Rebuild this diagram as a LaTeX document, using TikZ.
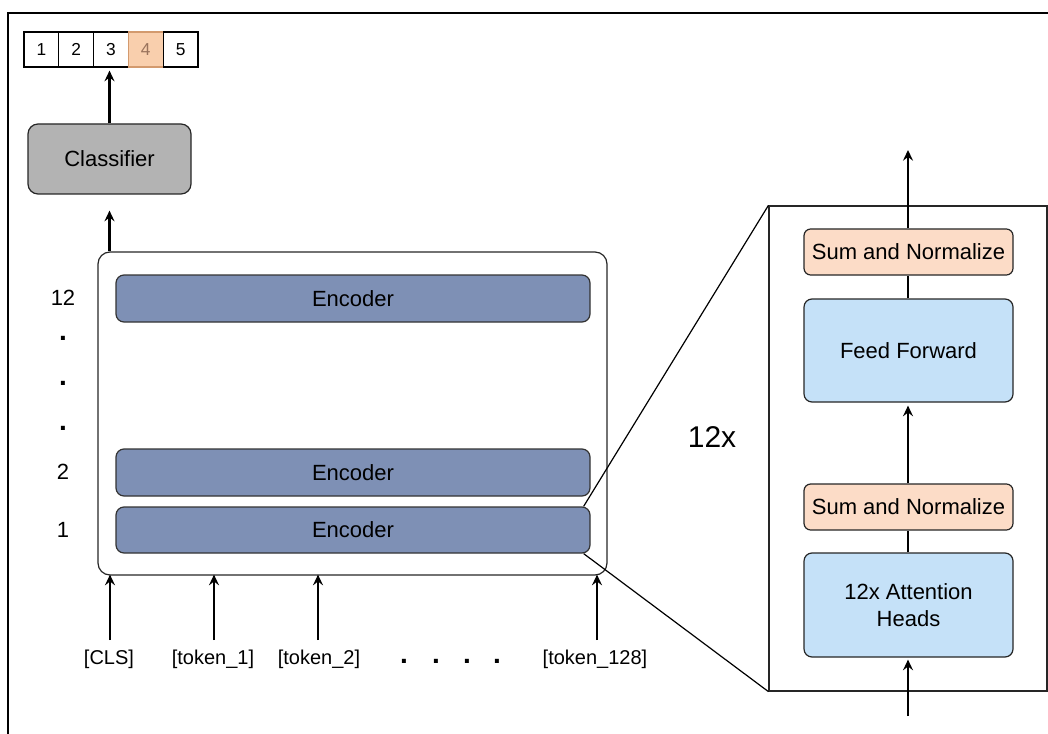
\documentclass[tikz,border=0pt]{standalone}
\usepackage{fontspec}
\setmainfont{Liberation Sans}
\usetikzlibrary{arrows.meta,calc}
\newlength\px \setlength\px{0.75pt}
\definecolor{encfill}{HTML}{7E90B5}
\definecolor{clsfill}{HTML}{B3B3B3}
\definecolor{snfill}{HTML}{FCDCC7}
\definecolor{bluefill}{HTML}{C5E1F8}
\definecolor{hlfill}{HTML}{F9CFAD}
\definecolor{hldraw}{HTML}{D39A6E}
\definecolor{hltext}{HTML}{9A735C}
\begin{document}
\begin{tikzpicture}[x=0.75pt,y=-0.75pt,
  every node/.style={font=\fontsize{16.5}{20}\selectfont, inner sep=0pt},
  arr/.style={line width=1.7pt,-{Stealth[length=8pt,width=7.5pt,inset=2.8pt]}},
  conn/.style={line width=1.7pt},
  thin line/.style={line width=0.9pt},
  outbox/.style={draw, line width=0.9pt, minimum width=34.8\px, minimum height=35\px, font=\fontsize{13}{15}\selectfont},
  clsbox/.style={draw=black!85, fill=clsfill, rounded corners=7.5pt, line width=0.9pt, minimum width=163\px, minimum height=70\px},
  container/.style={draw=black!85, rounded corners=9pt, line width=0.9pt, minimum width=509\px, minimum height=323\px},
  encbox/.style={draw=black!80, fill=encfill, rounded corners=6pt, line width=0.9pt, minimum width=474\px, minimum height=47\px},
  panelbox/.style={draw=black!85, line width=0.9pt, minimum width=278\px, minimum height=485\px},
  snbox/.style={draw=black!85, fill=snfill, rounded corners=5pt, line width=0.9pt, minimum width=209\px, minimum height=46\px},
  bluebox/.style={draw=black!85, fill=bluefill, rounded corners=6pt, line width=0.9pt, minimum width=209\px, minimum height=103\px, align=center},
  lbl/.style={font=\fontsize{16.5}{20}\selectfont},
  tok/.style={font=\fontsize{15}{18}\selectfont},
  dotlbl/.style={font=\fontsize{21}{24}\selectfont\bfseries},
]
\useasboundingbox (0,0) rectangle (1048,734);
% outer frame
\coordinate (ftl) at (8,13);
\coordinate (ftr) at (1048,13);
\coordinate (fbl) at (8,734);
\draw[line width=1.1pt] (fbl) -- (ftl) -- (ftr);

% output boxes
\node[outbox] (o1) at (41.4,49.5) {1};
\node[outbox] (o2) at (76.2,49.5) {2};
\node[outbox] (o3) at (111,49.5) {3};
\node[outbox, fill=hlfill, draw=hldraw, text=hltext] (o4) at (145.8,49.5) {4};
\node[outbox] (o5) at (180.6,49.5) {5};

% classifier
\node[clsbox] (cls) at (109.5,159) {Classifier};
\draw[arr, shorten >=3\px] (cls.north) -- (cls.north |- o3.south);

% encoder stack
\node[container] (enc) at (352.5,413.5) {};
\node[encbox] (e12) at (353,298.5) {Encoder};
\node[encbox] (e2) at (353,472.5) {Encoder};
\node[encbox, minimum height=46\px] (e1) at (353,530) {Encoder};
\draw[arr, shorten >=16\px] (enc.north -| cls) -- (cls.south);

% layer labels
\node[lbl] (l12) at (63,298) {12};
\node[dotlbl] (ld1) at (63,338) {.};
\node[dotlbl] (ld2) at (63,383) {.};
\node[dotlbl] (ld3) at (63,428) {.};
\node[lbl] (l2) at (63,472) {2};
\node[lbl] (l1) at (63,530) {1};

% tokens
\coordinate (a0) at (110,640);
\coordinate (a1) at (214,640);
\coordinate (a2) at (318,640);
\coordinate (a3) at (597,640);
\foreach \i in {0,1,2,3} {
  \draw[arr, shorten >=-1\px] (a\i) -- (a\i |- enc.south);
}
\node[tok] (t0) at (109,659) {[CLS]};
\node[tok] (t1) at (213,659) {[token\_1]};
\node[tok] (t2) at (319,659) {[token\_2]};
\node[tok] (t3) at (595,659) {[token\_128]};
\node[dotlbl] (td1) at (404,661) {.};
\node[dotlbl] (td2) at (436,661) {.};
\node[dotlbl] (td3) at (467,661) {.};
\node[dotlbl] (td4) at (497,661) {.};

% detail panel
\node[panelbox] (panel) at (908,448.5) {};
\draw[thin line] ([shift={(-7,0)}]e1.north east) -- (panel.north west);
\draw[thin line] ([shift={(-7,0)}]e1.south east) -- (panel.south west);
\node[font=\fontsize{22.5}{27}\selectfont] (rep) at (712,437) {12x};

\node[snbox] (sn1) at (908.5,252) {Sum and Normalize};
\node[bluebox] (ff) at (908.5,350.5) {Feed Forward};
\node[snbox] (sn2) at (908.5,507) {Sum and Normalize};
\node[bluebox, minimum height=104\px] (att) at (908.5,605) {12x Attention\\Heads};

\coordinate (topout) at (908,150);
\coordinate (botin) at (908,716);
\draw[arr] (sn1.north -| topout) -- (topout);
\draw[conn] (ff.north -| topout) -- (sn1.south -| topout);
\draw[arr, shorten >=3\px] (sn2.north -| topout) -- (ff.south -| topout);
\draw[conn] (att.north -| topout) -- (sn2.south -| topout);
\draw[arr, shorten >=2\px] (botin) -- (att.south -| botin);
\end{tikzpicture}
\end{document}
